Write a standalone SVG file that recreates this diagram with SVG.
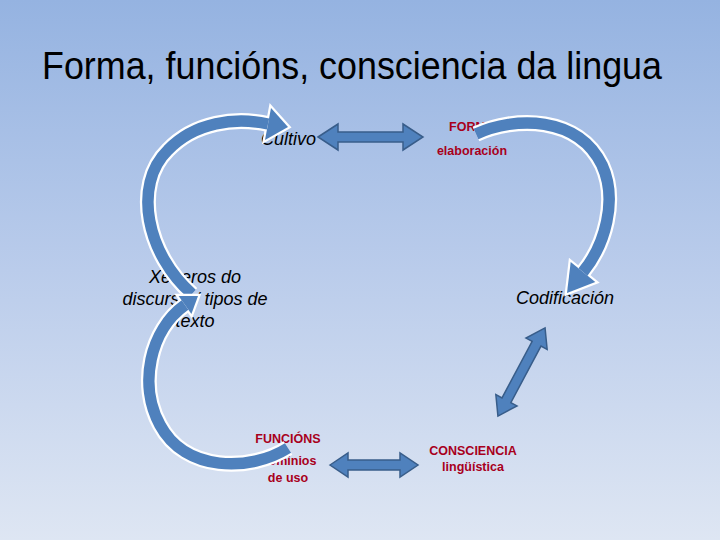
<svg xmlns="http://www.w3.org/2000/svg" width="720" height="540" viewBox="0 0 720 540">
<defs>
<linearGradient id="bg" x1="0" y1="0" x2="0" y2="1">
<stop offset="0" stop-color="#95B3E1"/>
<stop offset="0.5" stop-color="#BACCEB"/>
<stop offset="1" stop-color="#DEE6F3"/>
</linearGradient>
<style>
.title{font-family:"Liberation Sans",Arial,sans-serif;font-size:38px;fill:#000}
.it{font-family:"Liberation Sans",Arial,sans-serif;font-size:18px;font-style:italic;fill:#000}
.red{font-family:"Liberation Sans",Arial,sans-serif;font-size:12.5px;font-weight:bold;fill:#A8001C}
.outl{fill:none;stroke:#FFFFFF;stroke-width:16}
.body{fill:none;stroke:#4F81BD;stroke-width:11.5}
.headw{fill:#FFFFFF;stroke:#FFFFFF;stroke-width:4.5;stroke-linejoin:miter}
.headb{fill:#4F81BD;stroke:none}
.dbl{fill:#4F81BD;stroke:#385D8A;stroke-width:1.5;stroke-linejoin:miter}
</style>
</defs>
<rect width="720" height="540" fill="url(#bg)"/>
<text class="title" x="42" y="79" textLength="620" lengthAdjust="spacingAndGlyphs">Forma, funcións, consciencia da lingua</text>

<g id="cultivo"><text class="it" x="261" y="145">Cultivo</text></g>
<g id="forma">
<text class="red" x="472" y="131" text-anchor="middle">FORMA</text>
<text class="red" x="472" y="155" text-anchor="middle">elaboración</text>
</g>
<g id="xeneros">
<text class="it" x="195" y="283" text-anchor="middle">Xéneros do</text>
<text class="it" x="195" y="305" text-anchor="middle">discurso / tipos de</text>
<text class="it" x="195" y="327" text-anchor="middle">texto</text>
</g>
<g id="codificacion"><text class="it" x="565" y="304" text-anchor="middle">Codificación</text></g>
<g id="funcions">
<text class="red" x="288" y="443" text-anchor="middle">FUNCIÓNS</text>
<text class="red" x="288" y="465" text-anchor="middle">Dominios</text>
<text class="red" x="288" y="482" text-anchor="middle">de uso</text>
</g>
<g id="consciencia">
<text class="red" x="473" y="455" text-anchor="middle">CONSCIENCIA</text>
<text class="red" x="473" y="471" text-anchor="middle">lingüística</text>
</g>

<g id="connectors">
<!-- curved arrow 1: Xéneros -> Cultivo -->
<g>
<path class="outl" d="M192,294 C147,255 132,185 168,150 C195,122 235,117 268,124"/>
<polygon class="headw" points="271,108 288,127 265,140"/>
<path class="body" d="M192,294 C147,255 132,185 168,150 C195,122 235,117 268,124"/>
<polygon class="headb" points="271,108 288,127 265,140"/>
</g>
<!-- curved arrow 2: Forma -> Codificación -->
<g>
<path class="outl" d="M476,134 C515,116 578,116 602,165 C618,200 605,245 583,272"/>
<polygon class="headw" points="570.7,262 567,293 595.3,282"/>
<path class="body" d="M476,134 C515,116 578,116 602,165 C618,200 605,245 583,272"/>
<polygon class="headb" points="570.7,262 567,293 595.3,282"/>
</g>
<!-- curved arrow 3: Funcións -> Xéneros -->
<g>
<path class="outl" d="M288,448 C250,472 185,472 160,425 C138,385 150,330 185,305"/>
<polygon class="headw" points="191.4,313.9 198,296 178.6,296.1"/>
<path class="body" d="M288,448 C250,472 185,472 160,425 C138,385 150,330 185,305"/>
<polygon class="headb" points="191.4,313.9 198,296 178.6,296.1"/>
</g>
<!-- straight double arrows -->
<polygon class="dbl" points="318,137 338,124 338,132 403,132 403,124 423,137 403,150 403,142 338,142 338,150"/>
<polygon class="dbl" points="330,465 348,453 348,460 400,460 400,453 418,465 400,477 400,470 348,470 348,477"/>
<polygon class="dbl" transform="translate(521.5,372) rotate(-61.9)" points="-50,0 -32,-12 -32,-5 32,-5 32,-12 50,0 32,12 32,5 -32,5 -32,12"/>
</g>
</svg>
